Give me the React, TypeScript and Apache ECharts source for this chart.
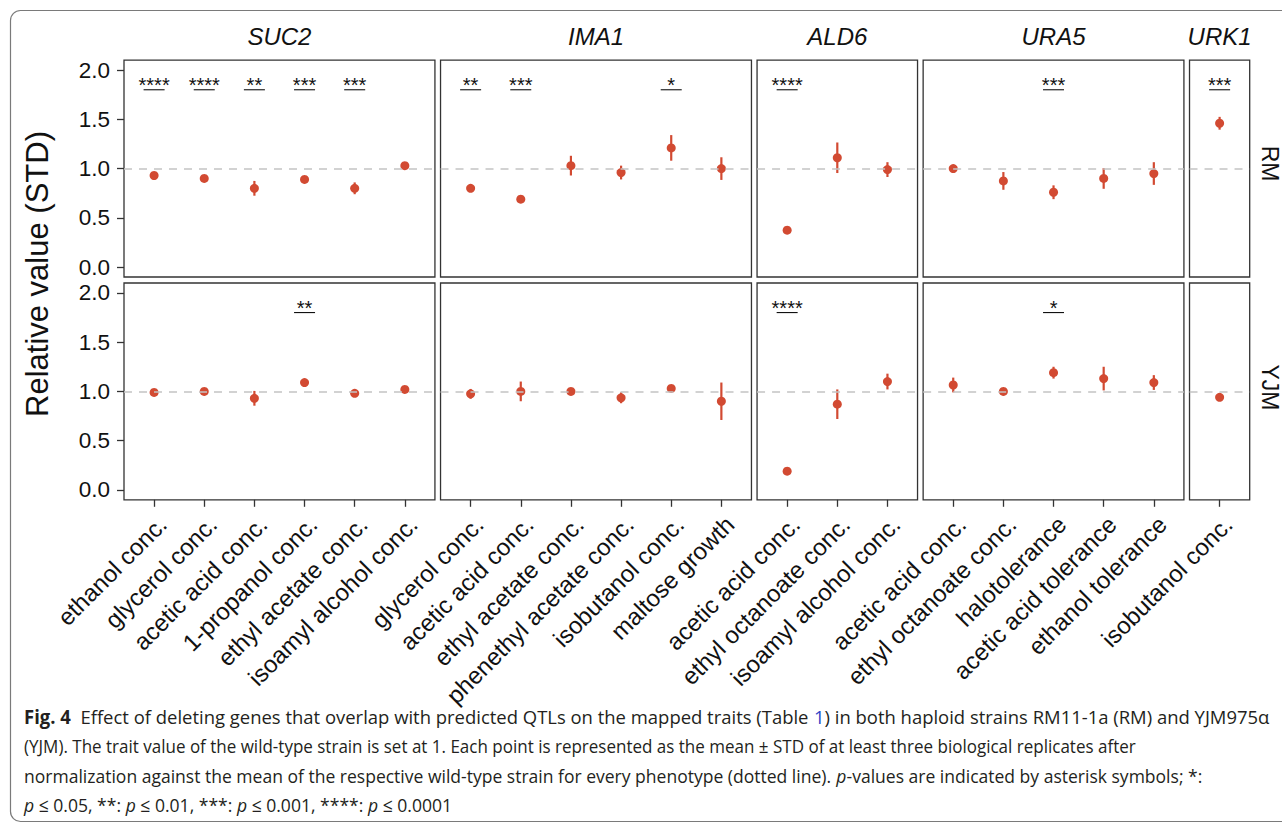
import React, { useEffect, useRef } from "react";
import * as echarts from "echarts";

// ---------------- data ----------------
const genes = ["SUC2", "IMA1", "ALD6", "URA5", "URK1"];
const strains = ["RM", "YJM"];

const suc2Traits = ["ethanol conc.", "glycerol conc.", "acetic acid conc.", "1-propanol conc.", "ethyl acetate conc.", "isoamyl alcohol conc."];
const ima1Traits = ["glycerol conc.", "acetic acid conc.", "ethyl acetate conc.", "phenethyl acetate conc.", "isobutanol conc.", "maltose growth"];
const ald6Traits = ["acetic acid conc.", "ethyl octanoate conc.", "isoamyl alcohol conc."];
const ura5Traits = ["acetic acid conc.", "ethyl octanoate conc.", "halotolerance", "acetic acid tolerance", "ethanol tolerance"];
const urk1Traits = ["isobutanol conc."];

const suc2RM = [0.93, 0.9, 0.8, 0.89, 0.8, 1.03];
const suc2RMsd = [0.02, 0.02, 0.075, 0.02, 0.06, 0.02];
const suc2RMsig = ["****", "****", "**", "***", "***", ""];
const suc2YJM = [0.99, 1.0, 0.93, 1.09, 0.98, 1.02];
const suc2YJMsd = [0.02, 0.02, 0.075, 0.02, 0.02, 0.02];
const suc2YJMsig = ["", "", "", "**", "", ""];

const ima1RM = [0.8, 0.69, 1.03, 0.96, 1.21, 1.0];
const ima1RMsd = [0.02, 0.02, 0.1, 0.07, 0.13, 0.115];
const ima1RMsig = ["**", "***", "", "", "*", ""];
const ima1YJM = [0.975, 1.0, 1.0, 0.935, 1.03, 0.9];
const ima1YJMsd = [0.05, 0.1, 0.02, 0.055, 0.02, 0.19];
const ima1YJMsig = ["", "", "", "", "", ""];

const ald6RM = [0.375, 1.11, 0.99];
const ald6RMsd = [0.02, 0.155, 0.075];
const ald6RMsig = ["****", "", ""];
const ald6YJM = [0.19, 0.87, 1.1];
const ald6YJMsd = [0.02, 0.15, 0.08];
const ald6YJMsig = ["****", "", ""];

const ura5RM = [1.0, 0.875, 0.76, 0.9, 0.95];
const ura5RMsd = [0.03, 0.09, 0.07, 0.105, 0.115];
const ura5RMsig = ["", "", "***", "", ""];
const ura5YJM = [1.065, 1.0, 1.19, 1.13, 1.09];
const ura5YJMsd = [0.075, 0.03, 0.06, 0.12, 0.075];
const ura5YJMsig = ["", "", "*", "", ""];

const urk1RM = [1.46];
const urk1RMsd = [0.065];
const urk1RMsig = ["***"];
const urk1YJM = [0.94];
const urk1YJMsd = [0.02];
const urk1YJMsig = [""];

const yTicks = [0, 0.5, 1, 1.5, 2];
const refLevel = 1;
const sigLevel = 1.8;

const captionLines = [
  "{b|Fig. 4}  Effect of deleting genes that overlap with predicted QTLs on the mapped traits (Table {l|1}) in both haploid strains RM11-1a (RM) and YJM975α",
  "(YJM). The trait value of the wild-type strain is set at 1. Each point is represented as the mean ± STD of at least three biological replicates after",
  "normalization against the mean of the respective wild-type strain for every phenotype (dotted line). {i|p}-values are indicated by asterisk symbols; *:",
  "{i|p} ≤ 0.05, **: {i|p} ≤ 0.01, ***: {i|p} ≤ 0.001, ****: {i|p} ≤ 0.0001",
];
const captionLineWidths = [1246, 1113, 1179, 428];

const panels = [
  { traits: suc2Traits, vals: [suc2RM, suc2YJM], sds: [suc2RMsd, suc2YJMsd], sigs: [suc2RMsig, suc2YJMsig] },
  { traits: ima1Traits, vals: [ima1RM, ima1YJM], sds: [ima1RMsd, ima1YJMsd], sigs: [ima1RMsig, ima1YJMsig] },
  { traits: ald6Traits, vals: [ald6RM, ald6YJM], sds: [ald6RMsd, ald6YJMsd], sigs: [ald6RMsig, ald6YJMsig] },
  { traits: ura5Traits, vals: [ura5RM, ura5YJM], sds: [ura5RMsd, ura5YJMsd], sigs: [ura5RMsig, ura5YJMsig] },
  { traits: urk1Traits, vals: [urk1RM, urk1YJM], sds: [urk1RMsd, urk1YJMsd], sigs: [urk1RMsig, urk1YJMsig] },
];

// ---------------- layout / style ----------------
const FONT = '"Liberation Sans", Arial, Helvetica, sans-serif';
const CAP_FONT = '"Open Sans", "Noto Sans", sans-serif';
const TXT = "#111111";
const PT = "#D24A32";
const LEFT0 = 124;
const UNIT = 50.15;
const GAP = 5.6;
const ROW_TOP = [60.2, 283];
const ROW_H = 216.8;

export default function App() {
  const ref = useRef<HTMLDivElement>(null);

  useEffect(() => {
    document.body.style.margin = "0";
    const chart = echarts.init(ref.current!, null, { renderer: "svg" });

    const lefts: number[] = [];
    const widths: number[] = [];
    let x = LEFT0;
    panels.forEach((p) => {
      const w = (p.traits.length + 0.2) * UNIT;
      lefts.push(x);
      widths.push(w);
      x += w + GAP;
    });

    const grid: any[] = [];
    const xAxis: any[] = [];
    const yAxis: any[] = [];
    const series: any[] = [];

    strains.forEach((strain, r) => {
      panels.forEach((p, c) => {
        const k = grid.length;
        const n = p.traits.length;
        const idx = p.traits.map((_, i) => i);
        grid.push({
          left: lefts[c],
          top: ROW_TOP[r],
          width: widths[c],
          height: ROW_H,
          show: true,
          borderColor: "#333333",
          borderWidth: 1.3,
          backgroundColor: "#ffffff",
        });
        xAxis.push({
          type: "value",
          gridIndex: k,
          position: "bottom",
          min: -0.6,
          max: n - 0.4,
          axisLine: { show: false, onZero: false },
          splitLine: { show: false },
          axisTick: {
            show: r === 1,
            customValues: idx,
            length: 7,
            lineStyle: { color: "#333333", width: 1.3 },
          },
          axisLabel: {
            show: r === 1,
            customValues: idx,
            formatter: (v: number) => p.traits[Math.round(v)] ?? "",
            rotate: 45,
            align: "right",
            verticalAlign: "top",
            margin: 12,
            fontSize: 24,
            fontFamily: FONT,
            color: TXT,
          },
        });
        yAxis.push({
          type: "value",
          gridIndex: k,
          position: "left",
          min: -0.1,
          max: 2.1,
          axisLine: { show: false, onZero: false },
          splitLine: { show: false },
          axisTick: {
            show: c === 0,
            customValues: yTicks,
            length: 7,
            lineStyle: { color: "#333333", width: 1.3 },
          },
          axisLabel: {
            show: c === 0,
            customValues: yTicks,
            formatter: (v: number) => v.toFixed(1),
            margin: 14,
            fontSize: 22.5,
            fontFamily: FONT,
            color: TXT,
          },
        });

        const vals = p.vals[r];
        const sds = p.sds[r];
        // error bars + reference line
        series.push({
          type: "custom",
          xAxisIndex: k,
          yAxisIndex: k,
          z: 2,
          data: vals.map((v, i) => [i, v, sds[i]]),
          renderItem: (params: any, api: any) => {
            const xi = api.value(0);
            const m = api.value(1);
            const s = api.value(2);
            const p1 = api.coord([xi, m - s]);
            const p2 = api.coord([xi, m + s]);
            return {
              type: "line",
              shape: { x1: p1[0], y1: p1[1], x2: p2[0], y2: p2[1] },
              style: { stroke: PT, lineWidth: 2.2 },
            };
          },
          markLine: {
            silent: true,
            symbol: "none",
            label: { show: false },
            lineStyle: { color: "#c4c4c4", type: [8, 7], width: 1.6 },
            data: [{ yAxis: refLevel }],
          },
        });
        // points
        series.push({
          type: "scatter",
          xAxisIndex: k,
          yAxisIndex: k,
          z: 3,
          symbol: "circle",
          symbolSize: 9,
          itemStyle: { color: PT, opacity: 1 },
          data: vals.map((v, i) => [i, v]),
        });
        // significance marks
        const sigItems = p.sigs[r]
          .map((s, i) => ({ i, s }))
          .filter((d) => d.s !== "");
        if (sigItems.length) {
          series.push({
            type: "custom",
            xAxisIndex: k,
            yAxisIndex: k,
            z: 4,
            data: sigItems.map((d) => [d.i, sigLevel]),
            renderItem: (params: any, api: any) => {
              const pt = api.coord([api.value(0), api.value(1)]);
              const s = sigItems[params.dataIndex].s;
              return {
                type: "group",
                children: [
                  {
                    type: "line",
                    shape: { x1: pt[0] - 10.5, y1: pt[1], x2: pt[0] + 10.5, y2: pt[1] },
                    style: { stroke: "#111111", lineWidth: 1.1 },
                  },
                  {
                    type: "text",
                    x: pt[0],
                    y: pt[1] + 5,
                    style: {
                      text: s,
                      fontSize: 20,
                      fontFamily: FONT,
                      fill: "#111111",
                      align: "center",
                      verticalAlign: "bottom",
                    },
                  },
                ],
              };
            },
          });
        }
      });
    });

    // caption: fit each line to the reference line length (condensed look)
    const capSize = 19;
    const cv = document.createElement("canvas").getContext("2d")!;
    const fontFor = (tag: string) =>
      `${tag === "b" ? "bold " : tag === "i" ? "italic " : ""}${capSize}px ${CAP_FONT}`;
    const measureLine = (line: string) => {
      let w = 0;
      const re = /\{(\w)\|([^}]*)\}/g;
      let last = 0;
      let m: RegExpExecArray | null;
      while ((m = re.exec(line))) {
        if (m.index > last) {
          cv.font = fontFor("");
          w += cv.measureText(line.slice(last, m.index)).width;
        }
        cv.font = fontFor(m[1]);
        w += cv.measureText(m[2]).width;
        last = m.index + m[0].length;
      }
      if (last < line.length) {
        cv.font = fontFor("");
        w += cv.measureText(line.slice(last)).width;
      }
      return w;
    };
    const capBase = { fontSize: capSize, fontFamily: CAP_FONT, fill: "#231f20" };

    const graphic: any[] = [
      {
        type: "rect",
        shape: { x: 10.5, y: 10.5, width: 1300, height: 811, r: 10 },
        style: { fill: "none", stroke: "#7a7a7a", lineWidth: 1.2 },
        z: 0,
      },
      {
        type: "text",
        x: 37,
        y: 274,
        rotation: Math.PI / 2,
        style: {
          text: "Relative value (STD)",
          fontSize: 31,
          fontFamily: FONT,
          fill: TXT,
          align: "center",
          verticalAlign: "middle",
        },
      },
      ...genes.map((g, c) => ({
        type: "text",
        x: lefts[c] + widths[c] / 2,
        y: 36,
        style: {
          text: g,
          fontSize: 24,
          fontStyle: "italic",
          fontFamily: FONT,
          fill: TXT,
          align: "center",
          verticalAlign: "middle",
        },
      })),
      ...strains.map((s, r) => ({
        type: "text",
        x: 1270,
        y: ROW_TOP[r] + ROW_H / 2 - 0.5 * (r === 0 ? 10 : 8),
        rotation: -Math.PI / 2,
        style: {
          text: s,
          fontSize: 23,
          fontFamily: FONT,
          fill: TXT,
          align: "center",
          verticalAlign: "middle",
        },
      })),
      ...captionLines.map((line, li) => ({
        type: "text",
        x: 24,
        y: 716 + li * 29.4,
        scaleX: captionLineWidths[li] / measureLine(line),
        style: {
          ...capBase,
          text: line,
          verticalAlign: "middle",
          rich: {
            b: { ...capBase, fontWeight: "bold" },
            i: { ...capBase, fontStyle: "italic" },
            l: { ...capBase, fill: "#2d45c8" },
          },
        },
      })),
    ];

    chart.setOption({
      animation: false,
      backgroundColor: "#ffffff",
      grid,
      xAxis,
      yAxis,
      series,
      graphic,
    });

    return () => chart.dispose();
  }, []);

  return <div ref={ref} style={{ width: 1282, height: 826 }} />;
}
